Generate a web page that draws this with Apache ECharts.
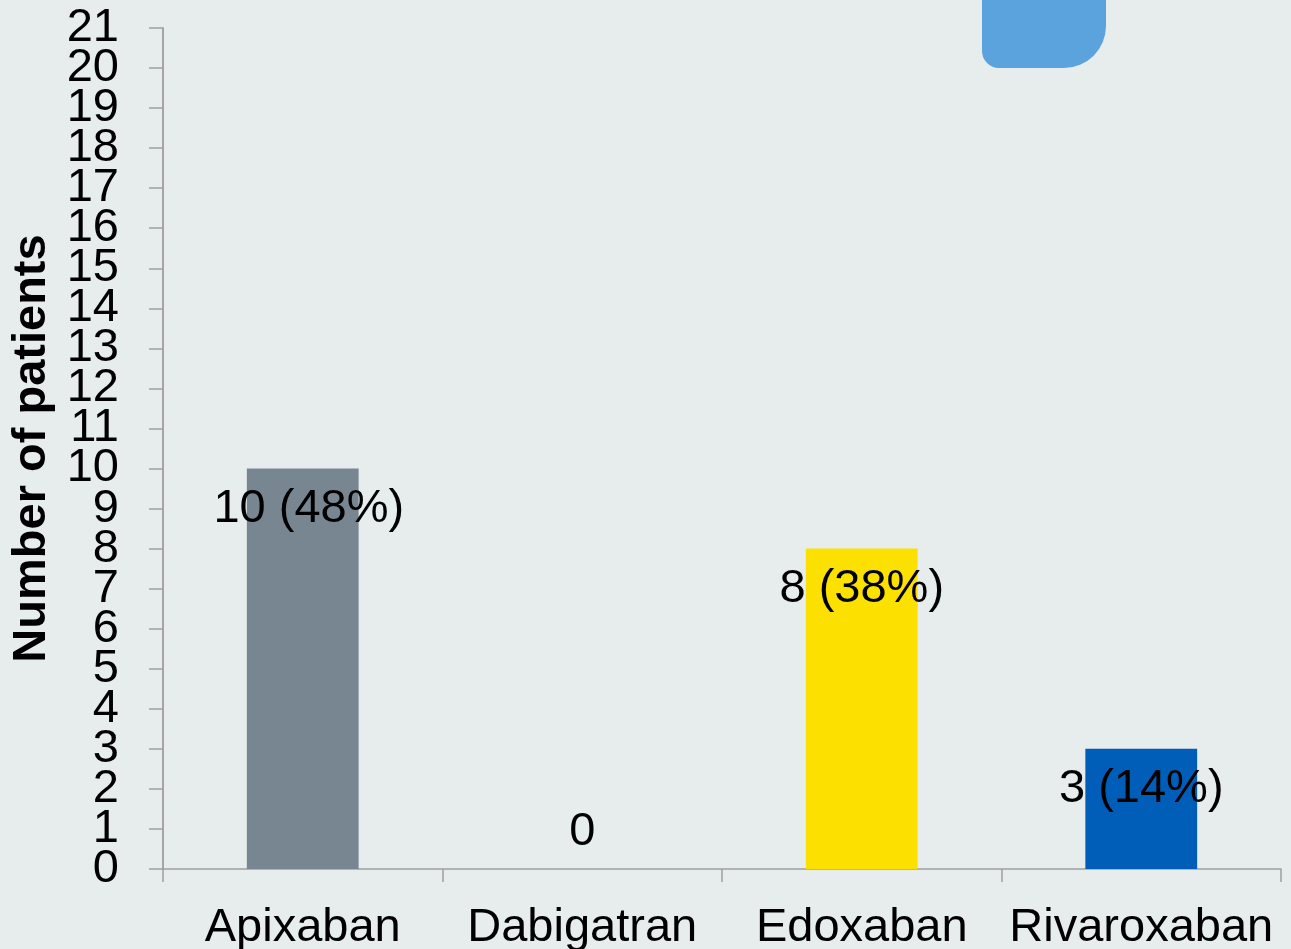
<!DOCTYPE html>
<html>
<head>
<meta charset="utf-8">
<script src="https://cdn.jsdelivr.net/npm/echarts@6/dist/echarts.min.js"></script>
<style>
html,body{margin:0;padding:0;background:#E7EDED;}
#c{width:1291px;height:949px;}
</style>
</head>
<body>
<div id="c"></div>
<script>
const categories = ["Apixaban", "Dabigatran", "Edoxaban", "Rivaroxaban"];
const patients = [10, 0, 8, 3];
const percents = ["48%", "", "38%", "14%"];
const barColors = ["#788691", "#788691", "#FBE000", "#005EB8"];
const yAxisTitle = "Number of patients";
const yMin = 0, yMax = 21, yStep = 1;

const FONT = "Liberation Sans, Arial, sans-serif";
const chart = echarts.init(document.getElementById('c'), null, {renderer: 'canvas'});

const seriesData = patients.map((v, i) => {
  const item = { value: v, itemStyle: { color: barColors[i] } };
  if (v === 0) {
    item.label = { position: 'top', distance: 13 };
  } else if (i === 0) {
    item.label = { offset: [6, 0] };
  }
  return item;
});

const axisLineStyle = { show: true, lineStyle: { color: '#A0A0A0', width: 1.5 } };
const yTick = { show: true, length: 14, lineStyle: { color: '#A0A0A0', width: 1.5 } };
const yLabelBase = { color: '#000', fontSize: 47, lineHeight: 36, fontFamily: FONT, margin: 44, hideOverlap: false };

function yAxisDef(parity, extra) {
  return Object.assign({
    type: 'value',
    position: 'left',
    min: yMin, max: yMax, interval: yStep,
    axisLine: axisLineStyle,
    axisTick: yTick,
    splitLine: { show: false },
    axisLabel: Object.assign({}, yLabelBase, {
      formatter: v => (Math.round(v) % 2 === parity ? String(v) : ''),
      showMinLabel: parity === 0,
      showMaxLabel: parity === 1
    })
  }, extra || {});
}

chart.setOption({
  backgroundColor: '#E7EDED',
  animation: false,
  grid: { left: 163, right: 10, top: 28, bottom: 80, containLabel: false, outerBoundsMode: 'none' },
  graphic: [{
    type: 'rect',
    left: 982, top: -10,
    shape: { width: 124, height: 78, r: [0, 0, 42, 17] },
    style: { fill: '#5BA3DC' },
    z: -1
  }],
  xAxis: {
    type: 'category',
    data: categories,
    boundaryGap: true,
    axisLine: axisLineStyle,
    axisTick: { show: true, length: 13, lineStyle: { color: '#A0A0A0', width: 1.5 } },
    axisLabel: { color: '#000', fontSize: 47, fontFamily: FONT, margin: 36, interval: 0 },
    splitLine: { show: false }
  },
  yAxis: [
    yAxisDef(0, {
      name: yAxisTitle,
      nameLocation: 'middle',
      nameGap: 103,
      nameTextStyle: { color: '#000', fontSize: 47, fontWeight: 'bold', fontFamily: FONT }
    }),
    yAxisDef(1, { offset: 0 })
  ],
  series: [{
    type: 'bar',
    yAxisIndex: 0,
    data: seriesData,
    barWidth: '40%',
    label: {
      show: true,
      position: 'insideTop',
      distance: 17,
      color: '#000',
      fontSize: 47,
      fontFamily: FONT,
      formatter: p => percents[p.dataIndex] ? p.value + ' (' + percents[p.dataIndex] + ')' : String(p.value)
    }
  }]
});
</script>
</body>
</html>
